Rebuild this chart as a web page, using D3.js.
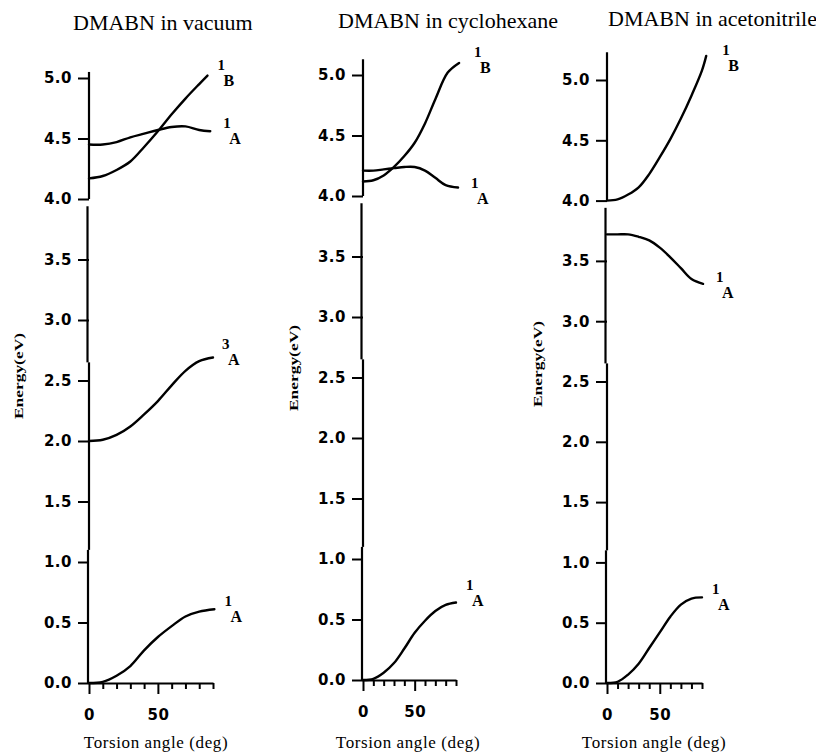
<!DOCTYPE html>
<html>
<head>
<meta charset="utf-8">
<script src="https://cdn.jsdelivr.net/npm/d3@7"></script>
<style>
  body { margin: 0; background: #fff; }
  .tick text { font-family: "DejaVu Sans", sans-serif; font-weight: bold; font-size: 15px; letter-spacing: 0.5px; fill: #000; }
  .tick line { stroke: #000; stroke-width: 2; }
</style>
</head>
<body>
<div id="chart"></div>
<script>
// ---- data ----
var titles = ["DMABN in vacuum", "DMABN in cyclohexane", "DMABN in acetonitrile"];
var yTicks = [0, 0.5, 1.0, 1.5, 2.0, 2.5, 3.0, 3.5, 4.0, 4.5, 5.0];
var xTicks = [0, 10, 20, 30, 40, 50, 60, 70, 80, 90];
var xTickLabels = [0, 50];
var xTitle = "Torsion angle (deg)";
var yTitle = "Energy(eV)";

// vacuum
var vac1BAngles = [0, 10, 20, 30, 40, 50, 60, 70, 80, 86];
var vac1B       = [4.17, 4.19, 4.24, 4.31, 4.43, 4.56, 4.70, 4.83, 4.95, 5.02];
var vac1AAngles = [0, 10, 20, 30, 40, 50, 60, 70, 80, 88];
var vac1A       = [4.45, 4.45, 4.47, 4.51, 4.54, 4.57, 4.595, 4.60, 4.57, 4.56];
var vac3AAngles = [0, 10, 20, 30, 40, 50, 60, 70, 80, 90];
var vac3A       = [2.00, 2.01, 2.05, 2.12, 2.22, 2.33, 2.46, 2.58, 2.66, 2.69];
var vacS0Angles = [0, 10, 20, 30, 40, 50, 60, 70, 80, 91];
var vacS0       = [0.00, 0.01, 0.06, 0.14, 0.27, 0.38, 0.47, 0.55, 0.59, 0.61];

// cyclohexane
var cyc1BAngles = [0, 10, 20, 30, 40, 50, 60, 70, 82, 93];
var cyc1B       = [4.12, 4.13, 4.17, 4.24, 4.33, 4.44, 4.60, 4.80, 5.02, 5.10];
var cyc1AAngles = [0, 10, 20, 30, 40, 50, 60, 70, 80, 92];
var cyc1A       = [4.21, 4.21, 4.22, 4.23, 4.24, 4.24, 4.21, 4.15, 4.09, 4.07];
var cycS0Angles = [0, 10, 20, 30, 40, 50, 60, 70, 80, 90];
var cycS0       = [0.00, 0.01, 0.06, 0.14, 0.26, 0.39, 0.49, 0.57, 0.62, 0.64];

// acetonitrile
var ace1BAngles = [0, 10, 20, 30, 40, 50, 60, 70, 80, 90, 94];
var ace1B       = [4.00, 4.01, 4.05, 4.11, 4.22, 4.36, 4.51, 4.68, 4.87, 5.08, 5.20];
var ace1AAngles = [0, 10, 20, 30, 40, 50, 60, 70, 80, 91];
var ace1A       = [3.72, 3.72, 3.72, 3.70, 3.67, 3.61, 3.53, 3.44, 3.35, 3.31];
var aceS0Angles = [0, 10, 20, 30, 40, 50, 60, 70, 80, 90];
var aceS0       = [0.00, 0.01, 0.07, 0.16, 0.29, 0.42, 0.55, 0.65, 0.70, 0.71];

// state labels: superscript multiplicity + symmetry
var vacLabels = [["1", "B"], ["1", "A"], ["3", "A"], ["1", "A"]];
var cycLabels = [["1", "B"], ["1", "A"], ["1", "A"]];
var aceLabels = [["1", "B"], ["1", "A"], ["1", "A"]];

function zipCurve(xs, ys) { return xs.map(function(x, i) { return [x, ys[i]]; }); }

var panels = [
  { title: titles[0],
    curves: [zipCurve(vac1BAngles, vac1B), zipCurve(vac1AAngles, vac1A), zipCurve(vac3AAngles, vac3A), zipCurve(vacS0Angles, vacS0)],
    labels: vacLabels },
  { title: titles[1],
    curves: [zipCurve(cyc1BAngles, cyc1B), zipCurve(cyc1AAngles, cyc1A), zipCurve(cycS0Angles, cycS0)],
    labels: cycLabels },
  { title: titles[2],
    curves: [zipCurve(ace1BAngles, ace1B), zipCurve(ace1AAngles, ace1A), zipCurve(aceS0Angles, aceS0)],
    labels: aceLabels }
];

// ---- layout (pixels) ----
var layout = [
  { x0: 89,  x90: 213, y0: 683, y5: 78, titleX: 73,  titleY: 30, yLabX: 19,  yLabY: 376, xTitleX: 156,
    nudge: [[10, -6], [13, -3], [9, -9], [10, -3]] },
  { x0: 363, x90: 456, y0: 680, y5: 75, titleX: 338, titleY: 28, yLabX: 294, yLabY: 368, xTitleX: 408,
    nudge: [[15, -6], [13, 0], [10, -13]] },
  { x0: 607, x90: 702, y0: 683, y5: 80, titleX: 608, titleY: 26, yLabX: 538, yLabY: 364, xTitleX: 654,
    nudge: [[16, -1], [13, -2], [10, -3]] }
];

var width = 816, height = 754;
var svg = d3.select("#chart").append("svg")
    .attr("width", width)
    .attr("height", height)
    .style("background", "#fff");

panels.forEach(function(p, i) {
  var L = layout[i];
  var x = d3.scaleLinear().domain([0, 90]).range([L.x0, L.x90]);
  var y = d3.scaleLinear().domain([0, 5]).range([L.y0, L.y5]);
  var g = svg.append("g");

  // title
  g.append("text")
    .attr("x", L.titleX).attr("y", L.titleY)
    .style("font-family", "'Liberation Serif', 'Times New Roman', serif")
    .style("font-size", "22px")
    .text(p.title);

  // y axis
  var yAxis = g.append("g")
    .attr("transform", "translate(" + L.x0 + ",0)")
    .call(d3.axisLeft(y).tickValues(yTicks).tickSize(11).tickPadding(6).tickFormat(d3.format(".1f")));
  yAxis.select(".domain").remove();

  // y axis line drawn in pasted segments, as in the scanned figure
  var top = d3.max(p.curves, function(c) { return d3.max(c, function(d) { return d[1]; }); }) + 0.03;
  var segs = [[0, 1.1, -1], [1.1, 2.65, 0], [2.65, 3.94, -1.5], [4.0, top, 0]];
  g.selectAll(".yseg").data(segs).enter().append("line")
    .attr("x1", function(d) { return L.x0 + d[2]; })
    .attr("x2", function(d) { return L.x0 + d[2]; })
    .attr("y1", function(d) { return y(d[0]); })
    .attr("y2", function(d) { return y(d[1]); })
    .attr("stroke", "#000").attr("stroke-width", 2.2);

  // x axis
  var xAxis = g.append("g")
    .attr("transform", "translate(0," + L.y0 + ")")
    .call(d3.axisBottom(x).tickValues(xTicks).tickSizeInner(6).tickSizeOuter(0).tickPadding(12)
      .tickFormat(function(d) { return xTickLabels.indexOf(d) >= 0 ? d : ""; }));
  xAxis.select(".domain").attr("stroke", "#000").attr("stroke-width", 2.2);
  xAxis.selectAll(".tick line")
    .attr("y2", function(d) { return xTickLabels.indexOf(d) >= 0 ? 11 : 6; });
  xAxis.selectAll(".tick text").attr("y", 26);

  // axis titles
  g.append("text")
    .attr("x", L.xTitleX).attr("y", 748)
    .attr("text-anchor", "middle")
    .style("font-family", "'Liberation Serif', 'Times New Roman', serif")
    .style("font-size", "17px")
    .style("letter-spacing", "0.6px")
    .text(xTitle);

  g.append("text")
    .attr("transform", "translate(" + (L.yLabX + 4) + "," + L.yLabY + ") rotate(-90)")
    .attr("text-anchor", "middle")
    .attr("textLength", 86)
    .attr("lengthAdjust", "spacingAndGlyphs")
    .style("font-family", "'Liberation Serif', 'Times New Roman', serif")
    .style("font-weight", "bold")
    .style("font-size", "13px")
    .text(yTitle);

  // curves
  var line = d3.line()
    .x(function(d) { return x(d[0]); })
    .y(function(d) { return y(d[1]); })
    .curve(d3.curveCatmullRom.alpha(0.5));

  g.selectAll(".curve").data(p.curves).enter().append("path")
    .attr("class", "curve")
    .attr("d", line)
    .attr("fill", "none")
    .attr("stroke", "#000")
    .attr("stroke-width", 2.4)
    .attr("stroke-linecap", "round");

  // state labels
  p.curves.forEach(function(c, k) {
    var end = c[c.length - 1];
    var lx = x(end[0]) + L.nudge[k][0];
    var ly = y(end[1]) + L.nudge[k][1];
    var lab = p.labels[k];
    g.append("text")
      .attr("x", lx).attr("y", ly)
      .style("font-family", "'Liberation Serif', 'Times New Roman', serif")
      .style("font-weight", "bold")
      .style("font-size", "15px")
      .text(lab[0]);
    g.append("text")
      .attr("x", lx + 6).attr("y", ly + 16)
      .style("font-family", "'Liberation Serif', 'Times New Roman', serif")
      .style("font-weight", "bold")
      .style("font-size", "16px")
      .text(lab[1]);
  });
});
</script>
</body>
</html>
